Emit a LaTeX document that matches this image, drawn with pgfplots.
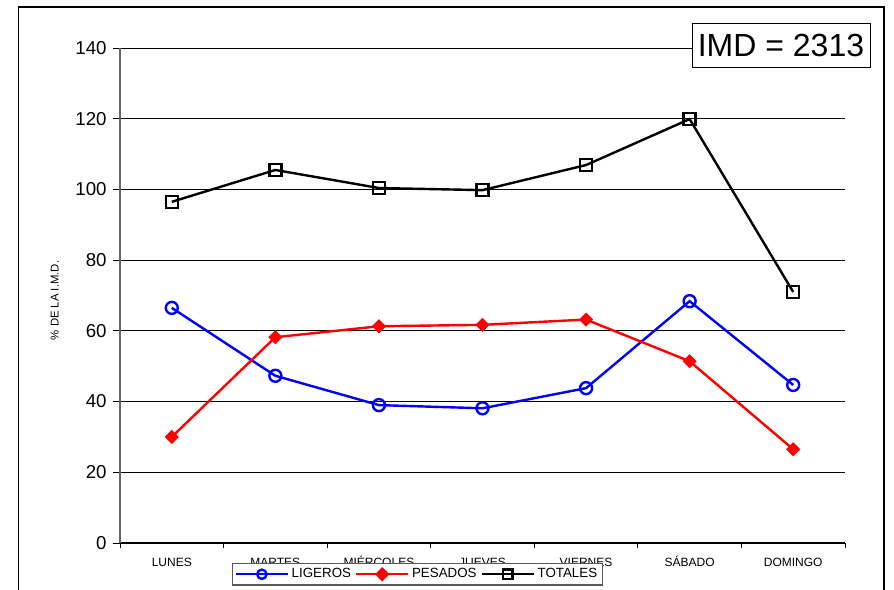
\documentclass[border=0pt]{standalone}
\usepackage{pgfplots}
\pgfplotsset{compat=1.18}
\usepackage{fontspec}
\setmainfont{Liberation Sans}
\begin{document}
\begin{tikzpicture}
\useasboundingbox (-90pt,-35.25pt) rectangle (580.5pt,407.25pt);
\begin{scope}
\clip (-90pt,-35.25pt) rectangle (580.5pt,407.25pt);
\draw[black,line width=1.1pt] (-76.1pt,-50pt) -- (-76.1pt,402pt) -- (573pt,402pt) -- (573pt,-50pt);
\end{scope}
\begin{axis}[
  at={(0,0)}, anchor=south west,
  scale only axis,
  width=543.75pt, height=371.25pt,
  xmin=-0.5, xmax=6.5, ymin=0, ymax=140,
  axis x line=bottom, axis y line=left,
  axis line style={-, line width=0.8pt},
  y axis line style={gray!80!black},
  xtick={0,...,6},
  xticklabels={LUNES,MARTES,MIÉRCOLES,JUEVES,VIERNES,SÁBADO,DOMINGO},
  major x tick style={draw=none},
  minor xtick={-0.5,0.5,...,6.5},
  minor x tick style={black, line width=0.6pt},
  minor tick length=4pt,
  ytick={0,20,...,140},
  tick align=outside,
  major tick length=5.5pt,
  y tick style={black, line width=0.6pt},
  ymajorgrids,
  grid style={black, line width=0.6pt},
  /pgf/number format/assume math mode=true,
  yticklabel style={font=\fontsize{14}{16}\selectfont, xshift=-1pt},
  xticklabel style={font=\fontsize{9}{10}\selectfont, yshift=0pt, text height=1.6ex, text depth=0.2ex},
  ylabel={\% DE LA I.M.D.},
  ylabel style={font=\fontsize{8.5}{10}\selectfont, at={(axis description cs:-0.09,0.49)}, anchor=center},
  legend columns=3,
  legend style={at={(axis description cs:0.41,-0.0404)}, anchor=north, draw=gray!70!black, line width=0.8pt,
    font=\fontsize{10}{12}\selectfont, inner sep=1.8pt, row sep=0pt,
    /tikz/every even column/.append style={column sep=1pt}},
  legend image code/.code={\draw[mark repeat=2,mark phase=2, mark size=3.5pt] plot coordinates {(0pt,0pt) (19.5pt,0pt) (39pt,0pt)};},
  clip=false,
]
\addplot[blue, line width=1.8pt, mark=o, mark size=4.5pt, mark options={fill=white, line width=1.8pt}]
  coordinates {(0,66.5) (1,47.3) (2,39.0) (3,38.1) (4,43.8) (5,68.4) (6,44.7)};
\addlegendentry{LIGEROS}
\addplot[red, line width=1.8pt, mark=square*, mark size=3.5pt, mark options={fill=red, rotate=45, line width=0.5pt}]
  coordinates {(0,30.0) (1,58.2) (2,61.3) (3,61.7) (4,63.2) (5,51.4) (6,26.5)};
\addlegendentry{PESADOS}
\addplot[black, line width=1.8pt, mark=square, mark size=4.5pt, mark options={fill=white, line width=1.8pt}]
  coordinates {(0,96.5) (1,105.5) (2,100.4) (3,99.8) (4,106.9) (5,119.9) (6,71.0)};
\addlegendentry{TOTALES}
\end{axis}
\node[draw=black, fill=white, line width=0.6pt, minimum width=133.5pt, minimum height=33pt, inner sep=0pt,
  font=\fontsize{24}{28}\selectfont] at (495.75pt,373.5pt) {IMD = 2313};
\end{tikzpicture}
\end{document}
